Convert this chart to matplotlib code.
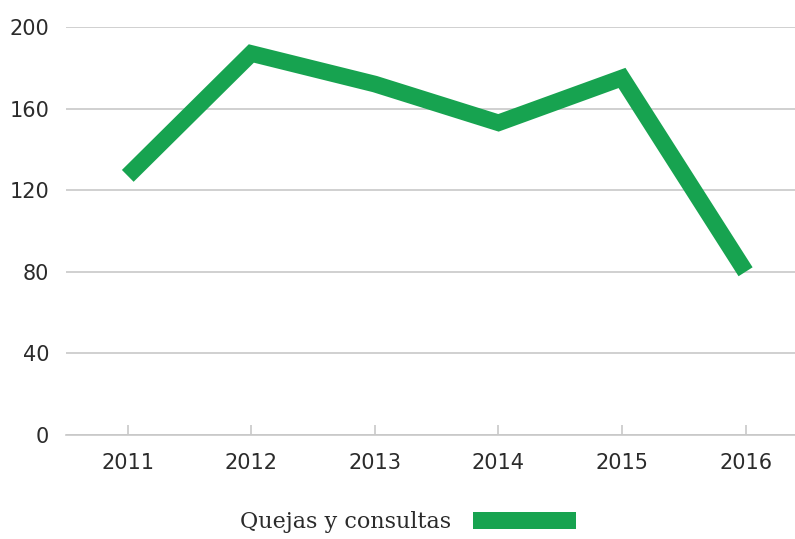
import matplotlib
matplotlib.use("Agg")
import matplotlib.pyplot as plt
from matplotlib.patches import Patch

years = ["2011", "2012", "2013", "2014", "2015", "2016"]
values = [127, 187, 172, 153, 175, 80]
yticks = [0, 40, 80, 120, 160, 200]
green = "#17a350"
txt = "#2b2b2b"

fig = plt.figure(figsize=(7.95, 5.39), dpi=100)
ax = fig.add_axes([0.083, 0.193, 0.917, 0.757])

x = list(range(len(years)))
ax.plot(x, values, color=green, lw=12, solid_joinstyle="miter", solid_capstyle="butt")

ax.set_xlim(-0.5, 5.4)
ax.set_ylim(0, 200)
ax.set_yticks(yticks)
ax.set_xticks(x)
ax.set_xticklabels(years)
ax.grid(axis="y", color="#c8c8c8", lw=1.2)
ax.set_axisbelow(True)
for s in ["top", "right", "left"]:
    ax.spines[s].set_visible(False)
ax.spines["bottom"].set_color("#c8c8c8")
ax.spines["bottom"].set_linewidth(1.2)
ax.tick_params(axis="y", length=0, pad=12, labelsize=15, labelcolor=txt)
ax.tick_params(axis="x", direction="in", length=7, width=1.2, color="#c8c8c8",
               pad=13, labelsize=15, labelcolor=txt)

handle = Patch(facecolor=green, edgecolor="none")
fig.legend([handle], ["Quejas y consultas"], loc="center", bbox_to_anchor=(0.513, 0.031),
           frameon=False, markerfirst=False, handlelength=4.6, handleheight=0.85,
           handletextpad=1.0, prop={"family": "DejaVu Serif", "size": 16},
           labelcolor=txt)

fig.savefig("out.png", dpi=100)
